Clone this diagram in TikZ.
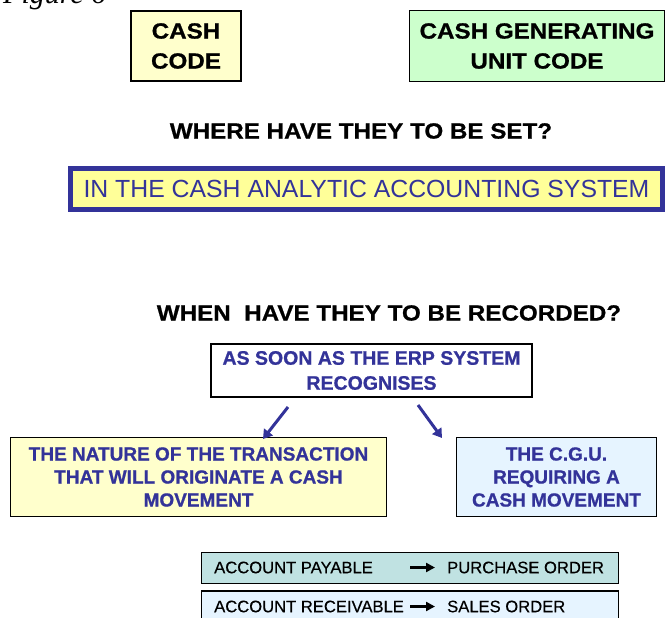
\documentclass[tikz,border=0pt]{standalone}
\usepackage{fontspec}
\setmainfont{Liberation Sans}
\newfontfamily\headfont{Liberation Sans Bold}[FakeStretch=1.1, FakeBold=0.8]
\newfontfamily\heavyfont{Liberation Sans Bold}[FakeBold=0.8]
\newfontfamily\rowfont{Liberation Sans}[FakeBold=0.4]
\newfontfamily\figfont{Liberation Serif}
\usetikzlibrary{arrows.meta}

\definecolor{navy}{HTML}{333399}
\definecolor{paleyellow}{HTML}{FFFFCC}
\definecolor{palegreen}{HTML}{CCFFCC}
\definecolor{brightyellow}{HTML}{FFFF99}
\definecolor{paleblue}{HTML}{E6F4FF}
\definecolor{paleteal}{HTML}{C0E2E2}

\tikzset{
  box/.style={draw, line width=1.5pt, inner sep=0pt, align=center},
  headtext/.style={font=\headfont\fontsize{22}{30}\selectfont},
  bluebold/.style={text=navy, font=\heavyfont\fontsize{19}{23}\selectfont},
  rowtext/.style={anchor=west, inner sep=0pt, font=\rowfont\fontsize{16.6}{20}\selectfont},
  navyarrow/.style={draw=navy, line width=3pt, -{Triangle[length=9pt,width=11pt]}},
  rowarrow/.style={line width=2.6pt, -{Triangle[length=9pt,width=9pt]}}
}

\begin{document}
\begin{tikzpicture}[x=1pt,y=-1pt]
\useasboundingbox (0,0) rectangle (672,618);

% caption, partly above the page edge
\node[font=\figfont\itshape\fontsize{30}{30}\selectfont, anchor=base west, inner sep=0pt] (fig) at (3,4) {Figure 6};

% the two codes
\node[box, line width=2pt, fill=paleyellow, minimum width=110pt, minimum height=70pt, headtext] (cash) at (186,46) {CASH\\CODE};
\node[box, fill=palegreen, minimum width=255pt, minimum height=71pt, headtext] (cguc) at (537,46) {CASH GENERATING\\UNIT CODE};

% where
\node[headtext] (where) at (361,131) {WHERE HAVE THEY TO BE SET?};
\node[draw=navy, line width=5pt, fill=brightyellow, inner sep=0pt, minimum width=592pt, minimum height=41pt, text=navy, font=\fontsize{24.8}{28}\selectfont] (sys) at (366.5,189) {IN THE CASH ANALYTIC ACCOUNTING SYSTEM};

% when
\node[headtext] (when) at (389,313) {WHEN\ \ HAVE THEY TO BE RECORDED?};
\node[box, line width=2pt, fill=white, minimum width=321pt, minimum height=53pt, text=navy, font=\heavyfont\fontsize{19.5}{25}\selectfont] (erp) at (371.5,370.5) {AS SOON AS THE ERP SYSTEM\\RECOGNISES};

\node[box, fill=paleyellow, minimum width=376pt, minimum height=79pt, bluebold] (nature) at (198.5,477) {THE NATURE OF THE TRANSACTION\\THAT WILL ORIGINATE A CASH\\MOVEMENT};
\node[box, fill=paleblue, minimum width=200pt, minimum height=79pt, bluebold] (cgu) at (556.5,477) {THE C.G.U.\\REQUIRING A\\CASH MOVEMENT};

\coordinate (l1) at (288,407);
\coordinate (l2) at (263,439);
\coordinate (r1) at (418,405);
\coordinate (r2) at (442,438);
\draw[navyarrow] (l1) -- (l2);
\draw[navyarrow] (r1) -- (r2);

% document mapping rows
\node[box, fill=paleteal, minimum width=417pt, minimum height=31pt] (pay) at (410,568) {};
\node[box, fill=paleblue, minimum width=417pt, minimum height=34pt] (rec) at (410,608) {};

\node[rowtext] (payl) at (214,567.5) {ACCOUNT PAYABLE};
\node[rowtext] (payr) at (447,567.5) {PURCHASE ORDER};
\coordinate (pa1) at (410,567.5);
\coordinate (pa2) at (435,567.5);
\draw[rowarrow] (pa1) -- (pa2);

\node[rowtext] (recl) at (214,606.5) {ACCOUNT RECEIVABLE};
\node[rowtext] (recr) at (447,606.5) {SALES ORDER};
\coordinate (ra1) at (410,606.5);
\coordinate (ra2) at (435,606.5);
\draw[rowarrow] (ra1) -- (ra2);
\end{tikzpicture}
\end{document}
